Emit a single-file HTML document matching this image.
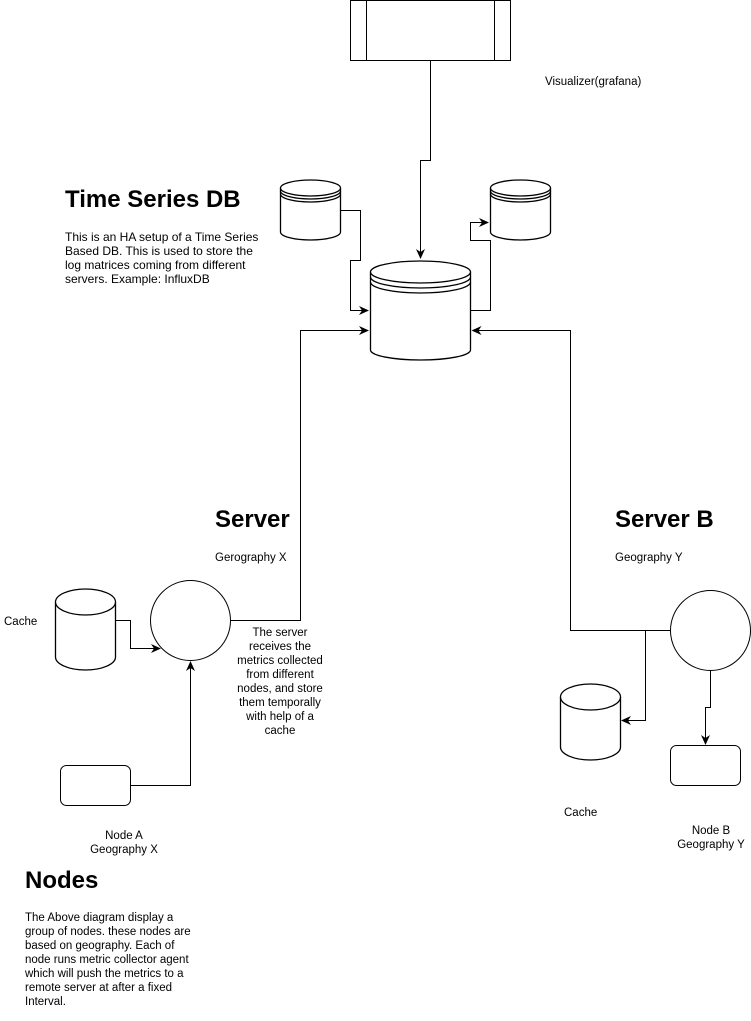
<!DOCTYPE html>
<html><head><meta charset="utf-8"><style>
html,body{margin:0;padding:0;background:#fff;}
svg{display:block;font-family:"Liberation Sans",Arial,sans-serif;}
</style></head><body>
<svg width="751" height="1021" viewBox="0 0 751 1021" xmlns="http://www.w3.org/2000/svg">
<defs><marker id="a" markerWidth="12" markerHeight="12" refX="9" refY="6" orient="auto" markerUnits="userSpaceOnUse"><path d="M0,1.5 L10,6 L0,10.5 L3,6 Z" fill="#000"/></marker></defs>
<g fill="none" stroke="#000" stroke-width="1">
<rect x="350.5" y="0.5" width="160" height="60" fill="#fff"/>
<line x1="366.5" y1="0" x2="366.5" y2="60"/><line x1="494.5" y1="0" x2="494.5" y2="60"/>
<path d="M430.5,61 V160.5 H420.5 V258" marker-end="url(#a)"/>
<g stroke-width="1.3">
<path d="M370.5,272 V350 A50,10 0 0 0 470.5,350 V272" fill="#fff"/>
<ellipse cx="420.5" cy="272" rx="50" ry="11" fill="#fff"/>
<path d="M370.5,277 A50,11 0 0 0 470.5,277 M370.5,282 A50,11 0 0 0 470.5,282"/>
<path d="M280.5,188 V232 A30,8 0 0 0 340.5,232 V188" fill="#fff"/>
<ellipse cx="310.5" cy="188" rx="30" ry="8" fill="#fff"/>
<path d="M280.5,191 A30,8 0 0 0 340.5,191 M280.5,194 A30,8 0 0 0 340.5,194"/>
<path d="M490.5,188 V232 A30,8 0 0 0 550.5,232 V188" fill="#fff"/>
<ellipse cx="520.5" cy="188" rx="30" ry="8" fill="#fff"/>
<path d="M490.5,191 A30,8 0 0 0 550.5,191 M490.5,194 A30,8 0 0 0 550.5,194"/>
<path d="M55.5,602 V657 A30,13 0 0 0 115.5,657 V602" fill="#fff"/>
<ellipse cx="85.5" cy="602" rx="30" ry="13" fill="#fff"/>
<path d="M560.5,697 V747 A30,13 0 0 0 620.5,747 V697" fill="#fff"/>
<ellipse cx="590.5" cy="697" rx="30" ry="13" fill="#fff"/>
</g>
<path d="M340.5,210.5 H360.5 V260.5 H350.5 V310.5 H368" marker-end="url(#a)"/>
<path d="M470.5,310.5 H490.5 V240.5 H470.5 V222.5 H488" marker-end="url(#a)"/>
<circle cx="190.5" cy="620.5" r="40" fill="#fff"/>
<path d="M230.5,620.5 H300.5 V330.5 H368" marker-end="url(#a)"/>
<path d="M115.5,620.5 H130.5 V648.5 H160" marker-end="url(#a)"/>
<rect x="60.5" y="765.5" width="70" height="40" rx="6" fill="#fff"/>
<path d="M130.5,785.5 H190.5 V662" marker-end="url(#a)"/>
<circle cx="710.5" cy="630.5" r="40" fill="#fff"/>
<path d="M670.5,630.5 H570.5 V330.5 H472.5" marker-end="url(#a)"/>
<path d="M645.5,630.5 V720.5 H622" marker-end="url(#a)"/>
<path d="M710.5,670.5 V707.5 H705.5 V744" marker-end="url(#a)"/>
<rect x="670.5" y="745.5" width="70" height="40" rx="6" fill="#fff"/>
</g>
<g fill="#000" font-size="12">
<text x="545" y="85" font-size="11.5">Visualizer(grafana)</text>
<text x="65" y="207" font-size="24" font-weight="bold">Time Series DB</text>
<text x="65" y="241">This is an HA setup of a Time Series</text>
<text x="65" y="255">Based DB. This is used to store the</text>
<text x="65" y="269">log matrices coming from different</text>
<text x="65" y="283">servers. Example: InfluxDB</text>
<text x="215" y="527" font-size="24" font-weight="bold">Server</text>
<text x="215" y="561" font-size="11.5">Gerography X</text>
<text x="615" y="527" font-size="24" font-weight="bold">Server B</text>
<text x="615" y="561" font-size="11.5">Geography Y</text>
<text x="4" y="625" font-size="11.5">Cache</text>
<g text-anchor="middle" font-size="11.5">
<text x="280" y="636">The server</text>
<text x="280" y="650">receives the</text>
<text x="280" y="664">metrics collected</text>
<text x="280" y="678">from different</text>
<text x="280" y="692">nodes, and store</text>
<text x="280" y="706">them temporally</text>
<text x="280" y="720">with help of a</text>
<text x="280" y="734">cache</text>
<text x="124" y="839">Node A</text>
<text x="124" y="853">Geography  X</text>
<text x="711" y="834">Node B</text>
<text x="711" y="848">Geography Y</text>
</g>
<text x="564" y="816" font-size="11.5">Cache</text>
<text x="25" y="888" font-size="24" font-weight="bold">Nodes</text>
<g font-size="11.5">
<text x="25" y="921">The Above diagram display a</text>
<text x="25" y="935">group of nodes. these nodes are</text>
<text x="25" y="949">based on geography. Each of</text>
<text x="25" y="963">node runs metric collector agent</text>
<text x="25" y="977">which will push the metrics to a</text>
<text x="25" y="991">remote server at after a fixed</text>
<text x="25" y="1005">Interval.</text>
</g>
</g>
</svg>
</body></html>
